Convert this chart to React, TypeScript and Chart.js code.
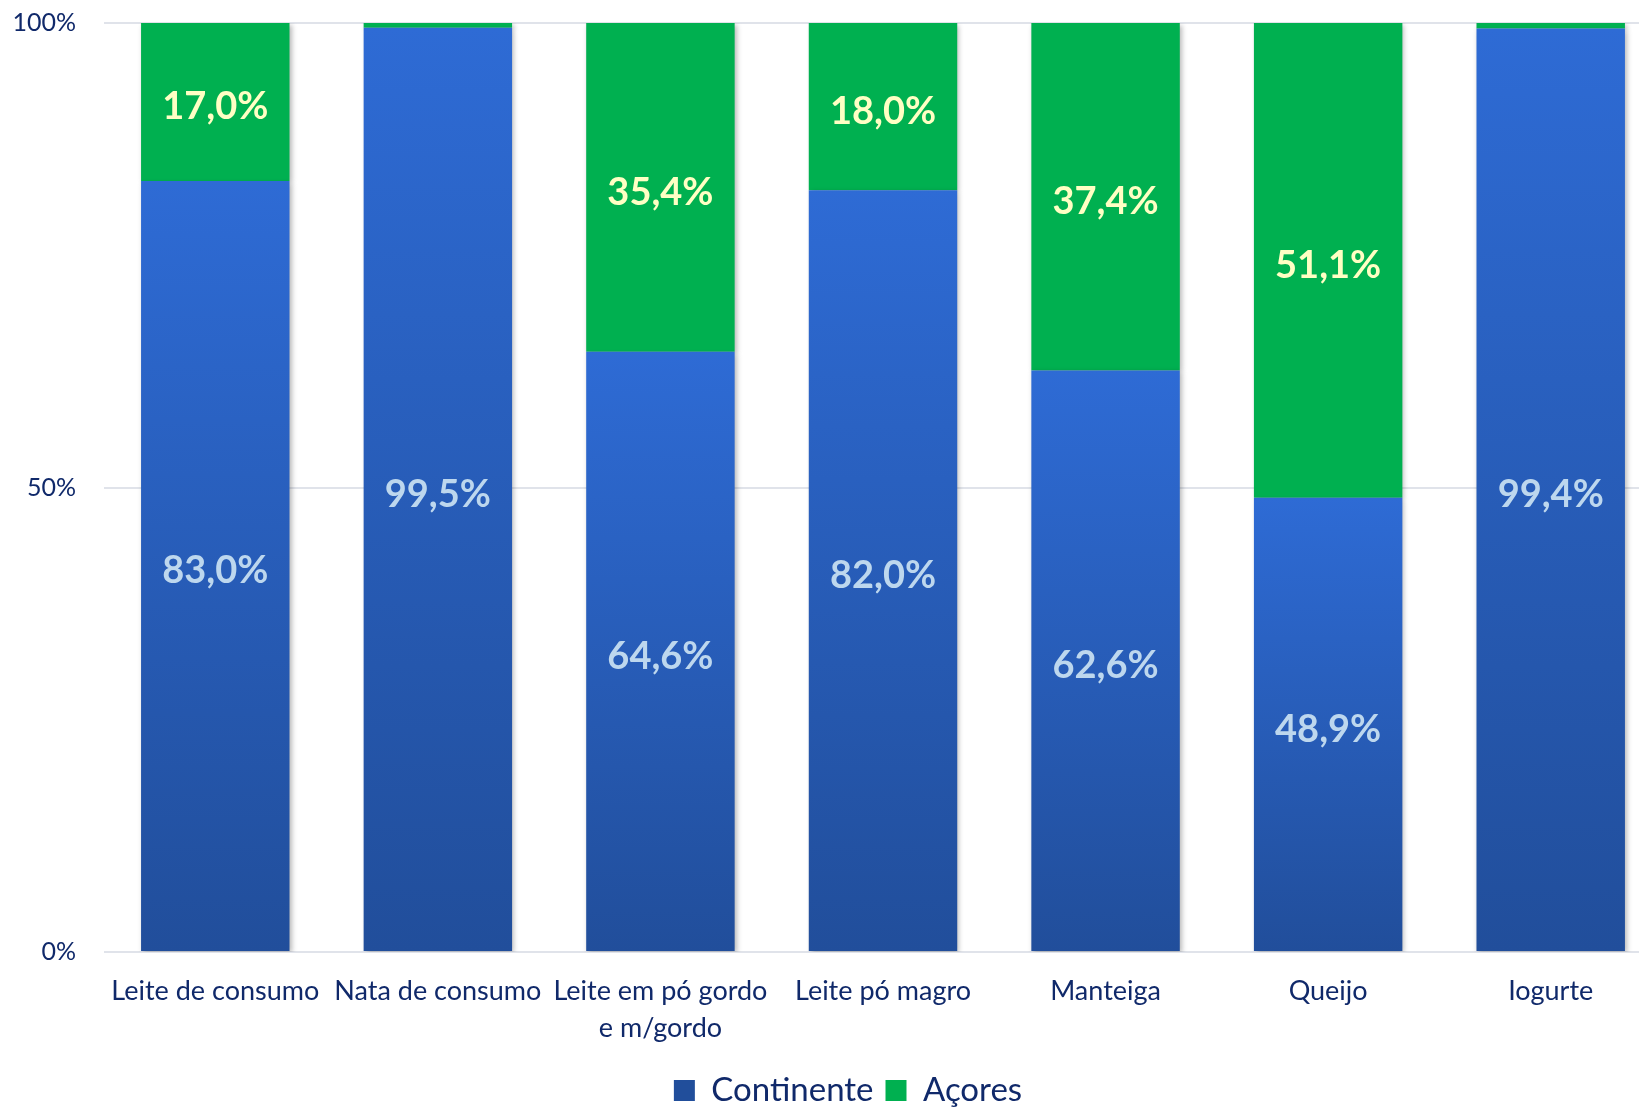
import React, { useEffect, useRef } from "react";
import { Chart, registerables } from "chart.js";

Chart.register(...registerables);

const categories: (string | string[])[] = [
  "Leite de consumo",
  "Nata de consumo",
  ["Leite em pó gordo", "e m/gordo"],
  "Leite pó magro",
  "Manteiga",
  "Queijo",
  "Iogurte",
];
const continente = [83.0, 99.5, 64.6, 82.0, 62.6, 48.9, 99.4];
const acores = [17.0, 0.5, 35.4, 18.0, 37.4, 51.1, 0.6];
const seriesNames = ["Continente", "Açores"];
const yTicks = [0, 50, 100];

const FONT = "Lato, 'Open Sans', sans-serif";
const NAVY = "#10296a";

const fmt = (v: number) => v.toFixed(1).replace(".", ",") + "%";

const labelPlugin = {
  id: "barLabelsShadow",
  afterLayout(chart: any) {
    const lg = chart.legend;
    if (lg) {
      lg.left += 17;
      lg.right += 17;
    }
  },
  beforeDatasetsDraw(chart: any) {
    const ctx = chart.ctx;
    ctx.save();
    ctx.shadowColor = "rgba(0,0,0,0.28)";
    ctx.shadowBlur = 5;
    ctx.shadowOffsetX = 2;
    ctx.shadowOffsetY = 2;
  },
  afterDatasetsDraw(chart: any) {
    const ctx = chart.ctx;
    ctx.restore();
    ctx.save();
    ctx.font = `bold 38px ${FONT}`;
    ctx.textAlign = "center";
    ctx.textBaseline = "middle";
    const colors = ["#bdd7ee", "#ffffc4"];
    chart.data.datasets.forEach((ds: any, di: number) => {
      const meta = chart.getDatasetMeta(di);
      meta.data.forEach((el: any, i: number) => {
        const v = ds.data[i];
        if (v < 2) return;
        ctx.fillStyle = colors[di];
        ctx.fillText(fmt(v), el.x, (el.y + el.base) / 2 + 5);
      });
    });
    ctx.restore();
  },
};

export default function App() {
  const ref = useRef<HTMLCanvasElement | null>(null);
  useEffect(() => {
    if (!ref.current) return;
    const chart = new Chart(ref.current, {
      type: "bar",
      data: {
        labels: categories,
        datasets: [
          {
            label: seriesNames[0],
            data: continente,
            backgroundColor: (c: any) => {
              const ch = c.chart;
              if (!ch.chartArea || c.type !== "data") return "#2b62c7";
              const y = ch.scales.y;
              const top = y.getPixelForValue(c.raw);
              const bot = y.getPixelForValue(0);
              const g = ch.ctx.createLinearGradient(0, top, 0, bot);
              g.addColorStop(0, "#2e6bd5");
              g.addColorStop(1, "#214e9b");
              return g;
            },
            borderWidth: 0,
            categoryPercentage: 1,
            barPercentage: 0.667,
          },
          {
            label: seriesNames[1],
            data: acores,
            backgroundColor: "#00b050",
            borderWidth: 0,
            categoryPercentage: 1,
            barPercentage: 0.667,
          },
        ],
      },
      options: {
        animation: false,
        responsive: false,
        layout: { padding: { top: 23, left: 0, right: 34, bottom: 0 } },
        plugins: {
          tooltip: { enabled: false },
          legend: {
            position: "bottom",
            labels: {
              boxWidth: 21,
              boxHeight: 21,
              padding: 12,
              color: NAVY,
              font: { family: FONT, size: 33 },
            },
          },
        },
        scales: {
          x: {
            stacked: true,
            grid: { display: false },
            border: { display: false },
            ticks: {
              color: NAVY,
              font: { family: FONT, size: 27, lineHeight: 1.37 },
              padding: 13,
              maxRotation: 0,
              minRotation: 0,
              autoSkip: false,
            },
            afterFit: (s: any) => {
              s.height = 110;
            },
          },
          y: {
            stacked: true,
            min: 0,
            max: 100,
            afterBuildTicks: (s: any) => {
              s.ticks = yTicks.map((v) => ({ value: v }));
            },
            grid: { color: "#e0e3ea", lineWidth: 2, drawTicks: false },
            border: { display: false },
            ticks: {
              color: NAVY,
              font: { family: FONT, size: 25 },
              padding: 28,
              callback: (v: any) => v + "%",
            },
            afterFit: (s: any) => {
              s.width = 104;
              s.paddingTop = 0;
              s.paddingBottom = 0;
            },
          },
        },
      },
      plugins: [labelPlugin],
    });
    return () => chart.destroy();
  }, []);
  return (
    <div
      style={{
        position: "fixed",
        left: 0,
        top: 0,
        width: 1639,
        height: 1110,
        overflow: "hidden",
        background: "#fff",
      }}
    >
      <canvas ref={ref} width={1696} height={1117} style={{ width: 1696, height: 1117, display: "block" }} />
    </div>
  );
}
